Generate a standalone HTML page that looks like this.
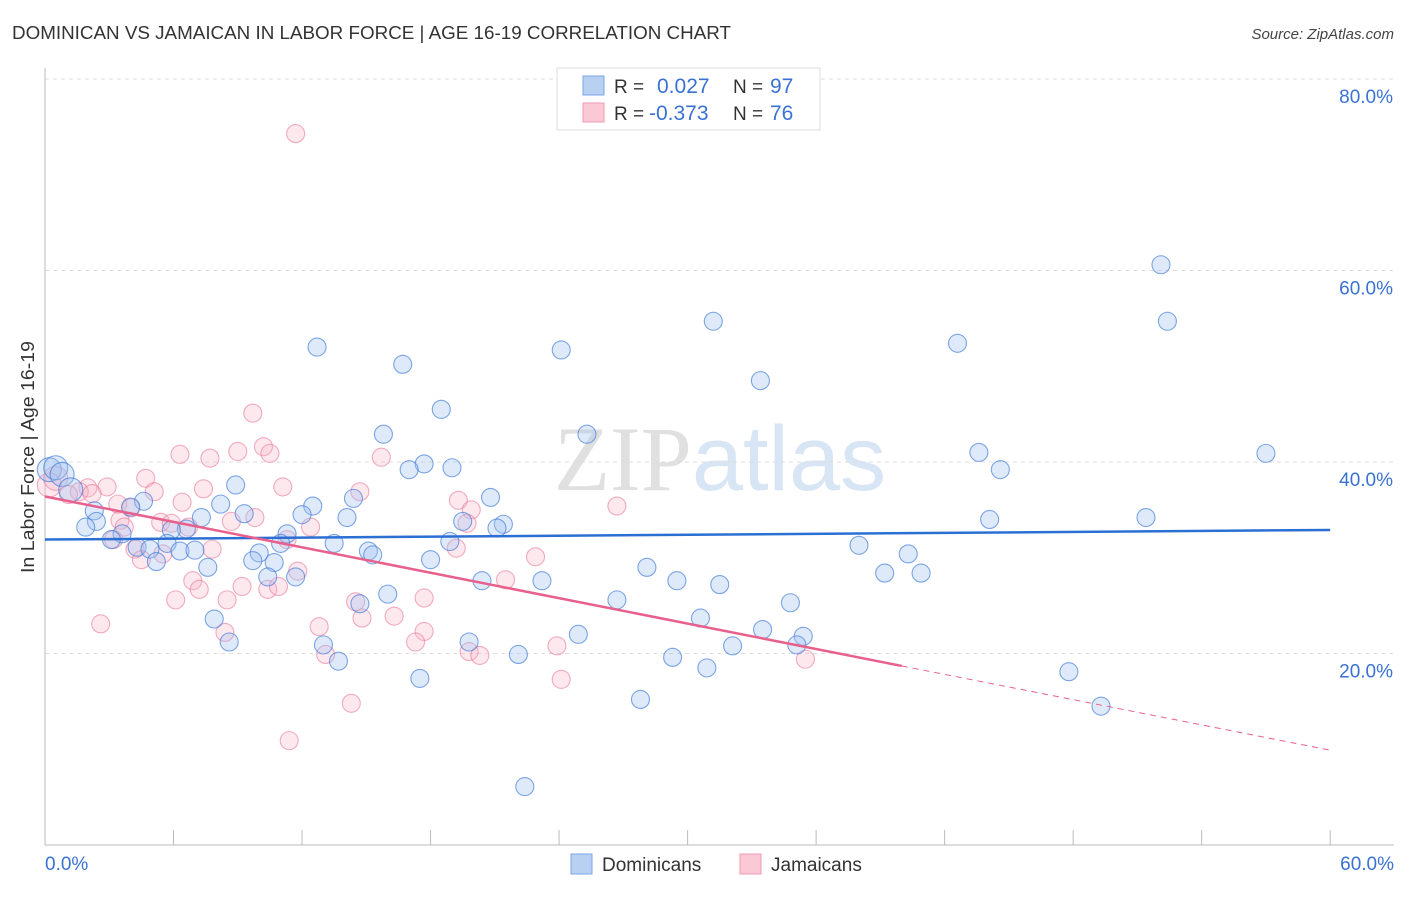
<!DOCTYPE html>
<html><head><meta charset="utf-8"><style>
body{margin:0;background:#fff;font-family:"Liberation Sans",sans-serif}
svg text{font-family:"Liberation Sans",sans-serif}
</style></head><body>
<svg id="chart" width="1406" height="892" xmlns="http://www.w3.org/2000/svg">
<text x="12" y="39" font-size="18" fill="#333" textLength="719" lengthAdjust="spacingAndGlyphs">DOMINICAN VS JAMAICAN IN LABOR FORCE | AGE 16-19 CORRELATION CHART</text>
<text x="1394" y="39" font-size="15" fill="#444" text-anchor="end" font-style="italic">Source: ZipAtlas.com</text>
<text x="720" y="490" font-size="92" text-anchor="middle" fill="#e4e4e4"><tspan font-family="Liberation Serif" fill="#e0e0e0">ZIP</tspan><tspan fill="#d8e5f5">atlas</tspan></text>
<g id="grid"></g><g id="axes"></g><g id="pts"></g><g id="trends"></g>
<text transform="translate(34,457) rotate(-90)" font-size="18" fill="#333" text-anchor="middle" textLength="232" lengthAdjust="spacingAndGlyphs">In Labor Force | Age 16-19</text>
<g>
<rect x="557" y="68" width="263" height="62" fill="#fff" stroke="#ddd"/>
<rect x="583" y="76" width="21" height="19" fill="#b8d1f3" stroke="#7aa6e6"/>
<rect x="583" y="103" width="21" height="19" fill="#fbc8d6" stroke="#ee9bb3"/>
<text x="614" y="93" font-size="19" fill="#333">R = </text><text x="657" y="93" font-size="21" fill="#3a72d4">0.027</text>
<text x="733" y="93" font-size="19" fill="#333">N = </text><text x="770" y="93" font-size="21" fill="#3a72d4">97</text>
<text x="614" y="120" font-size="19" fill="#333">R = </text><text x="649" y="120" font-size="21" fill="#3a72d4">-0.373</text>
<text x="733" y="120" font-size="19" fill="#333">N = </text><text x="770" y="120" font-size="21" fill="#3a72d4">76</text>
</g>
<g>
<rect x="571" y="854" width="21" height="20" fill="#b8d1f3" stroke="#7aa6e6"/>
<text x="602" y="871" font-size="19" fill="#333">Dominicans</text>
<rect x="740" y="854" width="21" height="20" fill="#fbc8d6" stroke="#ee9bb3"/>
<text x="771" y="871" font-size="19" fill="#333">Jamaicans</text>
</g>
</svg>
<script>
const yTicks=[20,40,60,80];
const yTickLabels=["20.0%","40.0%","60.0%","80.0%"];
const xEndLabels=["0.0%","60.0%"];
const domX=[0.2,0.5,0.8,1.2,12.7,24.1,31.2,33.4,42.6,52.1,52.4,16.7,18.5,15.8,25.3,43.6,57.0,44.6,17.7,17.0,19.0,8.9,20.8,14.4,4.6,8.2,12.5,12.0,9.3,14.1,4.0,2.3,7.3,44.1,51.4,19.5,21.4,21.1,2.4,1.9,6.6,11.3,3.6,3.1,5.9,18.9,13.5,11.0,5.7,4.3,4.9,6.3,7.0,15.1,15.3,10.0,38.0,40.3,18.0,5.2,9.7,10.7,7.6,28.1,39.2,40.9,10.4,11.7,20.4,23.2,29.5,31.5,16.0,26.7,14.7,34.8,7.9,30.6,33.5,24.9,35.4,8.6,19.8,13.0,32.1,35.1,22.1,29.3,13.7,30.9,47.8,17.5,27.8,49.3,22.4];
const domY=[39.2,39.4,38.7,37.1,52.0,51.7,54.7,48.5,52.4,60.6,54.7,50.2,45.5,42.9,42.9,41.0,40.9,39.2,39.8,39.2,39.4,37.6,36.3,36.2,35.9,35.6,35.4,34.5,34.6,34.2,35.3,34.9,34.2,34.0,34.2,33.8,33.5,33.1,33.8,33.2,33.0,32.5,32.5,31.9,32.9,31.7,31.5,31.5,31.5,31.1,30.9,30.7,30.8,30.7,30.3,30.5,31.3,30.4,29.8,29.6,29.7,29.5,29.0,29.0,28.4,28.4,28.0,28.0,27.6,27.6,27.6,27.2,26.2,25.6,25.2,25.3,23.6,23.7,22.5,22.0,21.8,21.2,21.2,20.9,20.8,20.9,19.9,19.6,19.2,18.5,18.1,17.4,15.2,14.5,6.1];
const jamX=[0.2,0.5,11.7,9.7,10.2,9.0,10.5,6.3,7.7,15.7,4.7,2.9,2.0,7.4,11.1,5.1,14.7,1.6,2.2,1.1,19.3,6.4,3.4,26.7,4.0,19.9,9.8,3.5,8.7,5.4,5.9,6.7,3.7,19.7,12.4,11.3,3.2,7.8,19.2,4.2,5.5,22.9,4.5,11.8,6.9,21.5,9.2,7.2,10.4,10.9,6.1,8.5,17.7,14.5,16.3,14.8,12.8,2.6,8.4,17.7,17.3,23.9,13.1,19.8,20.3,35.5,24.1,14.3,11.4];
const jamY=[37.6,38.3,74.3,45.1,41.6,41.1,40.9,40.8,40.4,40.5,38.3,37.4,37.3,37.2,37.4,36.9,36.9,36.9,36.7,36.6,36.0,35.8,35.6,35.4,35.2,35.0,34.2,33.9,33.8,33.7,33.6,33.2,33.2,33.6,33.2,31.9,31.9,30.9,31.0,30.9,30.4,30.1,29.8,28.6,27.6,27.7,27.0,26.7,26.7,27.0,25.6,25.6,25.8,25.4,23.9,23.7,22.8,23.1,22.2,22.3,21.2,20.8,19.9,20.2,19.8,19.4,17.3,14.8,10.9];
const domTrend=[31.9,32.9];
const jamTrend=[36.4,18.7,9.9];
const jamTrendX=[0,40,60];
const X=v=>45+v*21.42, Y=v=>845-v*9.575;
const NS="http://www.w3.org/2000/svg";
function mk(p,t,a){const e=document.createElementNS(NS,t);for(const k in a)e.setAttribute(k,a[k]);p.appendChild(e);return e;}
const grid=document.getElementById('grid'),axes=document.getElementById('axes'),pts=document.getElementById('pts'),tr=document.getElementById('trends');
yTicks.forEach((t,i)=>{
 const l=mk(grid,'line',{x1:45,x2:1394,y1:Y(t),y2:Y(t),stroke:'#ddd','stroke-dasharray':'4,4'});
 
 
 const tx=mk(axes,'text',{x:1393,y:Y(t)+24,'font-size':19,fill:'#3a72d4','text-anchor':'end'});tx.textContent=yTickLabels[i];
 
 
});
const ax=mk(axes,'line',{x1:45,x2:45,y1:68,y2:845,stroke:'#bbb'});


const bx=mk(axes,'line',{x1:45,x2:1394,y1:845,y2:845,stroke:'#bbb'});


for(let i=0;i<=10;i++){const t=mk(axes,'line',{x1:X(i*6),x2:X(i*6),y1:830,y2:845,stroke:'#bbb'});
 
 }
[[0,'start',45],[60,'end',1394]].forEach((d,i)=>{const t=mk(axes,'text',{x:d[2],y:870,'font-size':19,fill:'#3a72d4','text-anchor':d[1]});t.textContent=xEndLabels[i];
 
 });
function dots(xs,ys,fill,stroke,name){xs.forEach((x,i)=>{const r=(i<2||(name=='dominican-point'&&i<4))?12:9;
 const c=mk(pts,'circle',{cx:X(x),cy:Y(ys[i]),r:r,fill:fill,stroke:stroke,'stroke-width':1.1});
 
 });}
dots(jamX,jamY,'rgba(248,180,200,0.3)','rgba(232,120,155,0.6)','jamaican-point');
dots(domX,domY,'rgba(160,195,240,0.35)','rgba(60,120,215,0.65)','dominican-point');
const bl=mk(tr,'line',{x1:X(0),x2:X(60),y1:Y(domTrend[0]),y2:Y(domTrend[1]),stroke:'#2b6fd3','stroke-width':2.5});


const pl=mk(tr,'line',{x1:X(jamTrendX[0]),x2:X(jamTrendX[1]),y1:Y(jamTrend[0]),y2:Y(jamTrend[1]),stroke:'#e8608c','stroke-width':2.5});


const pd=mk(tr,'line',{x1:X(jamTrendX[1]),x2:X(jamTrendX[2]),y1:Y(jamTrend[1]),y2:Y(jamTrend[2]),stroke:'#e8608c','stroke-width':1,'stroke-dasharray':'6,5'});


</script>
</body></html>
